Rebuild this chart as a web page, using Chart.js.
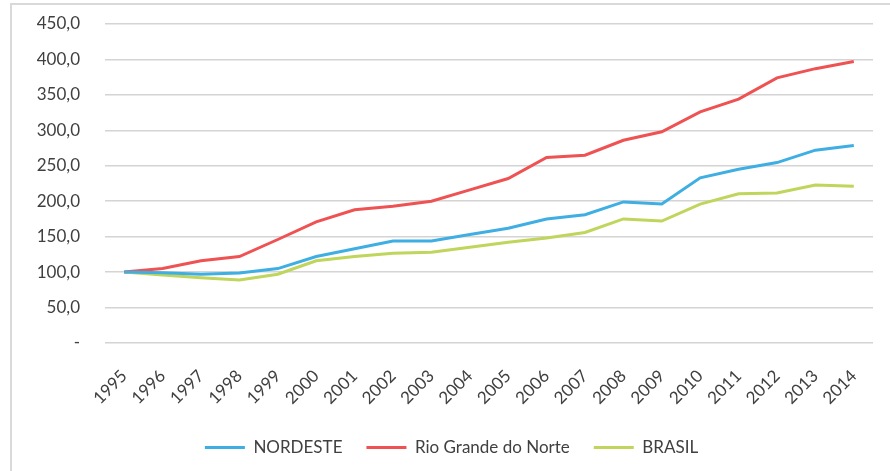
<!DOCTYPE html>
<html>
<head>
<meta charset="utf-8">
<script src="https://cdn.jsdelivr.net/npm/chart.js@4"></script>
<style>
  body { margin: 0; background: #fff; }
  #wrap { position: relative; width: 890px; height: 471px; }
  #frame { position: absolute; left: 10px; top: 3px; right: 0; bottom: 0;
           border-left: 2px solid #d9d9d9; border-top: 2px solid #d9d9d9; }
  canvas { position: absolute; left: 0; top: 0; }
</style>
</head>
<body>
<div id="wrap">
  <div id="frame"></div>
  <canvas id="grafico" width="890" height="471"></canvas>
</div>
<script>
const anos = ['1995','1996','1997','1998','1999','2000','2001','2002','2003','2004',
              '2005','2006','2007','2008','2009','2010','2011','2012','2013','2014'];
const nordeste = [100, 99, 97, 98.7, 105, 122, 133, 144, 144, 153,
                  162, 175, 181, 199, 196, 233, 245, 254.5, 272, 278.6];
const rioGrandeNorte = [100, 105, 116, 122, 146, 171, 188, 193, 200, 216,
                        232, 261.6, 265, 286, 298, 326, 344, 374, 387, 397];
const brasil = [100, 96, 92, 89, 97, 116, 122, 126.5, 128, 135,
                142, 148, 156, 175, 172, 196, 210.6, 211.5, 223, 221];

const fonte = { family: 'Lato, "Open Sans", sans-serif', size: 17 };
const corTexto = '#404040';

// empurra a legenda um pouco pra direita, como no original
const moveLegenda = {
  id: 'moveLegenda',
  afterLayout(chart) {
    chart.legend.left += 15;
    chart.legend.right += 15;
  }
};

const grafico = document.getElementById('grafico');

var chart = new Chart(grafico, {
  type: 'line',
  data: {
    labels: anos,
    datasets: [
      { label: 'NORDESTE', data: nordeste, borderColor: '#3FAEE3', backgroundColor: '#3FAEE3' },
      { label: 'Rio Grande do Norte', data: rioGrandeNorte, borderColor: '#EF5252', backgroundColor: '#EF5252' },
      { label: 'BRASIL', data: brasil, borderColor: '#BFD55B', backgroundColor: '#BFD55B' }
    ]
  },
  plugins: [moveLegenda],
  options: {
    responsive: false,
    animation: false,
    elements: {
      line: { borderWidth: 3, tension: 0 },
      point: { radius: 0 }
    },
    layout: {
      padding: { top: 24, right: 17, bottom: 5, left: 0 }
    },
    plugins: {
      tooltip: { enabled: false },
      legend: {
        display: true,
        position: 'bottom',
        labels: {
          boxWidth: 40,
          boxHeight: 3,
          padding: 24,
          color: corTexto,
          font: fonte,
          generateLabels: (c) => Chart.defaults.plugins.legend.labels.generateLabels(c)
            .map(item => Object.assign(item, { lineWidth: 0 }))
        }
      }
    },
    scales: {
      x: {
        offset: true,
        grid: { display: false },
        border: { display: false },
        ticks: { color: corTexto, font: fonte, minRotation: 45, maxRotation: 45, padding: 15 },
        afterFit: (scale) => { scale.height = 72; }
      },
      y: {
        min: 0,
        max: 450,
        border: { display: false },
        grid: { color: '#d4d4d4', lineWidth: 1.5, drawTicks: false },
        ticks: {
          stepSize: 50,
          padding: 25,
          color: corTexto,
          font: fonte,
          callback: (v) => v === 0 ? '-' : v.toFixed(1).replace('.', ',')
        },
        afterFit: (scale) => {
          scale.width = 105;
          scale.paddingTop = 0;
          scale.paddingBottom = 0;
        }
      }
    }
  }
});
</script>
</body>
</html>
